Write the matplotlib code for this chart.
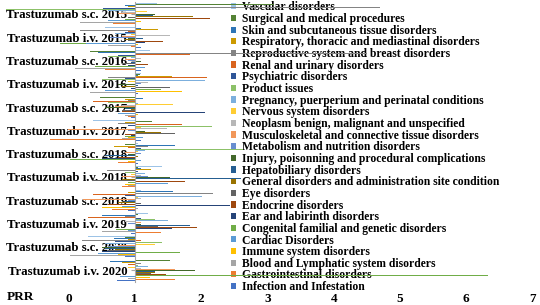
import matplotlib
matplotlib.use("Agg")
import matplotlib.pyplot as plt
import numpy as np

categories = ["Trastuzumab s.c. 2015", "Trastuzumab i.v. 2015", "Trastuzumab s.c. 2016",
              "Trastuzumab i.v. 2016", "Trastuzumab s.c. 2017", "Trastuzumab i.v. 2017",
              "Trastuzumab s.c. 2018", "Trastuzumab i.v. 2018", "Trastuzumab s.c. 2019",
              "Trastuzumab i.v. 2019", "Trastuzumab s.c. 2020", "Trastuzumab i.v. 2020"]

series_names = ["Vascular disorders", "Surgical and medical procedures",
                "Skin and subcutaneous tissue disorders",
                "Respiratory, thoracic and mediastinal disorders",
                "Reproductive system and breast disorders", "Renal and urinary disorders",
                "Psychiatric disorders", "Product issues",
                "Pregnancy, puerperium and perinatal conditions", "Nervous system disorders",
                "Neoplasm benign, malignant and unspecified",
                "Musculoskeletal and connective tissue disorders",
                "Metabolism and nutrition disorders",
                "Injury, poisonning and procedural complications", "Hepatobiliary disorders",
                "General disorders and administration site condition", "Eye disorders",
                "Endocrine disorders", "Ear and labirinth disorders",
                "Congenital familial and genetic disorders", "Cardiac Disorders",
                "Immune system disorders", "Blood and Lymphatic system disorders",
                "Gastrointestinal disorders", "Infection and Infestation"]

series_colors = ["#9DC3E6", "#548235", "#2E75B6", "#CC9A00", "#848484", "#D9641E",
                 "#2F5597", "#8CC168", "#7CAFDD", "#FFCD33", "#B7B7B7", "#F1975A",
                 "#698ED0", "#43682B", "#255E91", "#997300", "#636363", "#9E480E",
                 "#264478", "#70AD47", "#5B9BD5", "#FFC000", "#A5A5A5", "#ED7D31",
                 "#4472C4"]

# PRR values, in series_names order (Vascular ... Infection)
prr_sc_2015 = [1.33, 3.10, 0.85, 0.90, 4.70, 0.55, 0.52, -0.95, 0.60, 1.18, 0.80, 0.75, 0.22,
               1.30, 1.28, 1.88, 0.90, 2.13, 0.95, 0.85, 0.60, 1.10, 0.17, 0.67, 0.63]
prr_iv_2015 = [0.55, 2.24, 1.10, 1.35, 0.17, 0.90, 0.85, 0.75, 0.70, 0.95, 1.53, 0.80, 0.63,
               0.90, 1.13, 0.85, 0.90, 1.43, 1.15, -0.13, 0.27, 1.05, 0.60, 0.95, 1.10]
prr_sc_2016 = [1.23, 0.32, 0.45, 0.82, 4.50, 1.83, 0.75, 0.60, 0.95, 1.56, 1.10, 0.85, 0.90,
               1.10, 0.95, 2.26, 0.80, 1.20, 0.90, 0.40, 1.15, 0.85, 0.10, 0.55, 1.10]
prr_iv_2016 = [1.10, 1.08, 1.05, 1.56, 0.60, 2.09, 0.85, 0.50, 2.06, 0.90, 1.20, 0.70, 1.10,
               0.75, 1.05, 0.80, 1.53, 0.85, 0.95, 1.40, 0.55, 1.71, 0.32, 0.90, 1.05]
prr_sc_2017 = [1.76, 0.48, 1.12, 0.85, 0.90, 0.37, 0.75, 0.60, 1.05, 1.58, 0.80, 0.70, 0.90,
               0.55, 0.85, 0.95, 0.80, 0.80, 2.06, -0.90, 0.75, 1.05, 0.85, 0.90, 0.95]
prr_iv_2017 = [0.37, 1.26, 0.60, 0.85, 0.75, 1.71, 0.90, 2.17, 0.65, 1.10, 1.48, 0.00, 0.90,
               1.15, 1.45, 1.40, 1.60, 0.85, 0.95, 0.85, 1.12, 0.90, 0.80, -0.28, 1.10]
prr_sc_2018 = [1.05, 0.85, 1.61, 0.68, 1.20, 0.90, 1.10, 2.63, 1.15, 1.05, 1.30, 0.85, 1.10,
               0.90, 0.55, 1.05, 1.30, 0.75, 0.50, 0.02, 1.10, 0.90, 0.60, 0.75, 1.05]
prr_iv_2018 = [1.41, 1.05, 1.10, 1.25, 0.58, 0.90, 1.05, 0.85, 1.15, 0.95, 1.10, 0.80, 1.20,
               1.53, 2.60, 0.80, 0.35, 1.76, 0.35, 0.90, 1.50, 0.85, 0.90, 0.80, 1.05]
prr_sc_2019 = [1.10, 3.15, 1.58, 0.90, 2.18, 0.37, 0.85, 0.02, 2.01, 1.05, 1.10, 0.22, 0.90,
               0.95, 0.85, 0.75, 1.10, 0.60, 2.43, 0.85, 0.80, 0.50, 1.05, 0.65, 0.90]
prr_iv_2019 = [1.20, 1.05, 0.50, 1.28, 0.85, 0.30, 1.10, 1.30, 1.50, 1.20, 0.85, 1.10, 0.90,
               1.10, 1.83, 0.72, 1.35, 1.94, 1.56, 0.72, 0.90, 1.10, 0.50, 1.40, 0.95]
prr_sc_2020 = [0.30, 0.85, 0.68, 0.90, 0.20, 1.10, 0.70, 1.41, 0.55, 1.30, 0.85, 0.75, 0.60,
               0.50, 0.55, 0.70, 0.60, 2.86, 0.50, 1.68, 0.45, 0.75, 0.02, 0.75, 0.85]
prr_iv_2020 = [1.15, 1.53, 0.63, 0.80, 1.10, 0.90, 0.85, 1.05, 1.20, 0.90, 1.10, 1.60, 1.30,
               1.91, 1.30, 1.30, 1.25, 1.47, 1.55, 6.33, 0.78, 1.23, 0.90, 1.60, 0.73]

prr_by_category = [prr_sc_2015, prr_iv_2015, prr_sc_2016, prr_iv_2016, prr_sc_2017,
                   prr_iv_2017, prr_sc_2018, prr_iv_2018, prr_sc_2019, prr_iv_2019,
                   prr_sc_2020, prr_iv_2020]

x_ticks = [0, 1, 2, 3, 4, 5, 6, 7]

W, H = 540, 305
fig = plt.figure(figsize=(W / 100, H / 100), dpi=100)
font = "Liberation Serif"
plt.rcParams["font.family"] = [font, "DejaVu Serif"]
plt.rcParams["font.weight"] = "bold"

# axes: value 0 at px 68.5, 66.3 px per unit; plot rows from y=2.3 to 281.7
x0_px, unit = 68.5, 66.3
xmin, xmax = -1.0, 7.05
left_px = x0_px + xmin * unit
right_px = x0_px + xmax * unit
top_px, bot_px = 2.3, 281.7
ax = fig.add_axes([left_px / W, 1 - bot_px / H, (right_px - left_px) / W, (bot_px - top_px) / H])
ax.set_xlim(xmin, xmax)
n_cat = len(categories)
ax.set_ylim(-0.5, n_cat - 0.5)

n_ser = len(series_names)
bar_h = 0.9 / n_ser
ycent = np.arange(n_cat)[::-1]
for si, name in enumerate(series_names):
    vals = np.array([row[si] for row in prr_by_category])
    ys = ycent + (12 - si) * bar_h
    ax.barh(ys, vals - 1, left=1, height=bar_h * 1.05, color=series_colors[si],
            label=name, linewidth=0, zorder=2)

for s in ["top", "right", "bottom"]:
    ax.spines[s].set_visible(False)
ax.spines["left"].set_position(("data", 1))
ax.spines["left"].set_color("#A6A6A6")
ax.spines["left"].set_linewidth(0.8)
ax.spines["left"].set_zorder(3)

ax.set_yticks(ycent)
ax.set_yticklabels(categories, fontsize=9.2, fontweight="bold", family=font)
ax.tick_params(axis="y", length=3, width=0.8, color="#A6A6A6", pad=2.5)
ax.set_xticks(x_ticks)
ax.set_xticklabels([str(t) for t in x_ticks], fontsize=9.5, fontweight="bold", family=font)
ax.tick_params(axis="x", length=0, pad=8)

fig.text(20 / W, 1 - 297 / H, "PRR", ha="center", va="center", fontsize=9.5,
         fontweight="bold", family=font)

leg = ax.legend(loc="upper left", bbox_to_anchor=(231 / W, 1 - 1.5 / H),
                bbox_transform=fig.transFigure, frameon=False, ncol=1,
                prop={"family": font, "weight": "bold", "size": 8.4},
                handlelength=0.45, handleheight=0.45, handletextpad=0.5,
                labelspacing=-0.03, borderpad=0, borderaxespad=0)
leg.set_zorder(1)

fig.savefig("out.png", dpi=100)
